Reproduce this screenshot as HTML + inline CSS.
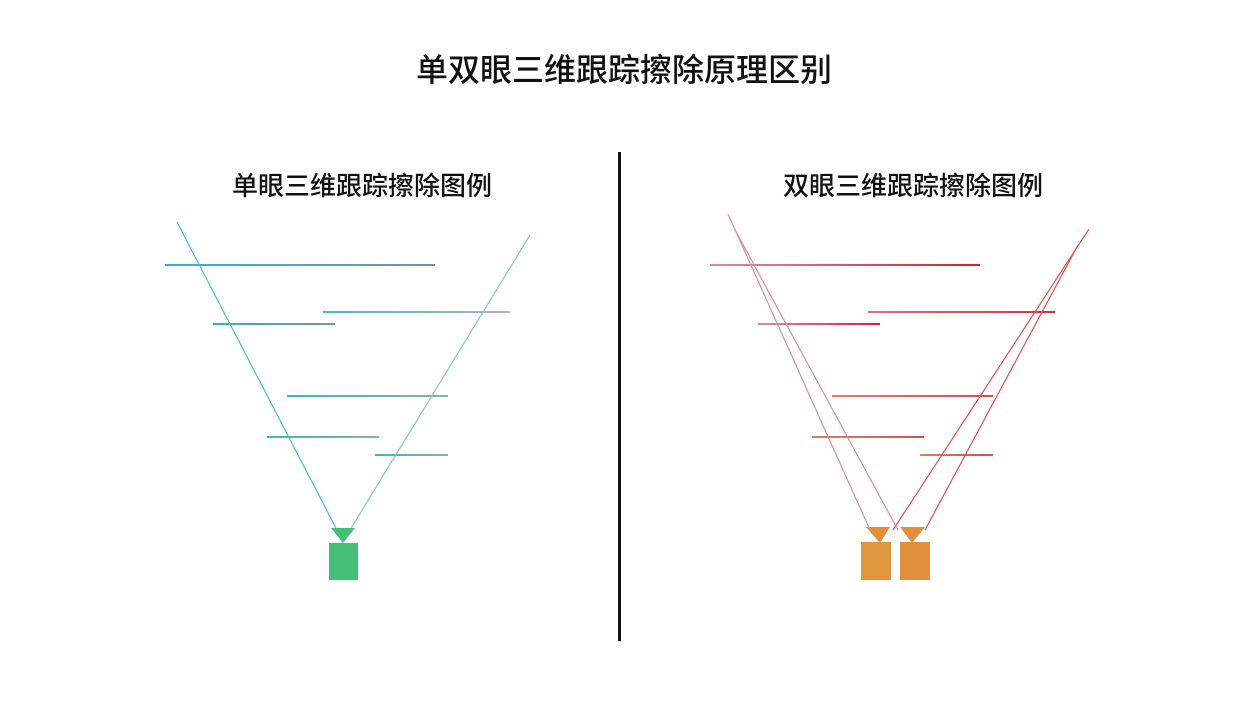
<!DOCTYPE html>
<html><head><meta charset="utf-8"><style>
body{margin:0;background:#fff;width:1253px;height:704px;overflow:hidden;font-family:"Liberation Sans","Noto Sans CJK SC",sans-serif;}
</style></head><body>
<svg width="1253" height="704" xmlns="http://www.w3.org/2000/svg">
<defs>
<linearGradient id="b1" x1="0" x2="1" y1="0" y2="0"><stop offset="0" stop-color="#2bb3e0"/><stop offset="1" stop-color="#7a8fb0"/></linearGradient>
<linearGradient id="b2" x1="0" x2="1" y1="0" y2="0"><stop offset="0" stop-color="#46b8d8"/><stop offset="1" stop-color="#a8b4c8"/></linearGradient>
<linearGradient id="b3" x1="0" x2="1" y1="0" y2="0"><stop offset="0" stop-color="#3bb8b0"/><stop offset="1" stop-color="#8ab0a8"/></linearGradient>
<linearGradient id="r1" x1="0" x2="1" y1="0" y2="0"><stop offset="0" stop-color="#d888b8"/><stop offset="1" stop-color="#d8202c"/></linearGradient>
<linearGradient id="r2" x1="0" x2="1" y1="0" y2="0"><stop offset="0" stop-color="#e07080"/><stop offset="1" stop-color="#d83040"/></linearGradient>
<linearGradient id="r3" x1="0" x2="1" y1="0" y2="0"><stop offset="0" stop-color="#d88070"/><stop offset="1" stop-color="#d05050"/></linearGradient>
</defs>
<text x="624" y="81" font-size="32" font-weight="500" text-anchor="middle" fill="#111" font-family="Liberation Sans, Noto Sans CJK SC, sans-serif">单双眼三维跟踪擦除原理区别</text>
<text x="362" y="195" font-size="26" font-weight="500" text-anchor="middle" fill="#111" font-family="Liberation Sans, Noto Sans CJK SC, sans-serif">单眼三维跟踪擦除图例</text>
<text x="913" y="195" font-size="26" font-weight="500" text-anchor="middle" fill="#111" font-family="Liberation Sans, Noto Sans CJK SC, sans-serif">双眼三维跟踪擦除图例</text>
<rect x="618" y="152" width="3" height="489" fill="#111"/>
<!-- left -->
<rect x="165" y="264" width="270" height="2" fill="url(#b1)"/>
<rect x="323" y="311" width="187" height="2" fill="url(#b2)"/>
<rect x="213" y="323" width="122" height="2" fill="url(#b1)"/>
<rect x="287" y="395" width="161" height="2" fill="url(#b3)"/>
<rect x="267" y="436" width="112" height="2" fill="url(#b3)"/>
<rect x="375" y="454" width="73" height="2" fill="url(#b3)"/>
<line x1="177" y1="222" x2="337" y2="530" stroke="#4bbbc8" stroke-width="1.2"/>
<line x1="530" y1="235" x2="350" y2="530" stroke="#8cc8b0" stroke-width="1.2"/>
<polygon points="331,528 355,528 343,543" fill="#44bf78"/>
<rect x="329" y="543" width="29" height="37" fill="#44bf78"/>
<!-- right -->
<rect x="710" y="264" width="270" height="2" fill="url(#r1)"/>
<rect x="868" y="311" width="187" height="2" fill="url(#r2)"/>
<rect x="758" y="323" width="122" height="2" fill="url(#r1)"/>
<rect x="832" y="395" width="161" height="2" fill="url(#r3)"/>
<rect x="812" y="436" width="112" height="2" fill="url(#r3)"/>
<rect x="920" y="454" width="73" height="2" fill="url(#r3)"/>
<g stroke-width="1.2">
<line x1="728" y1="214" x2="870" y2="530" stroke="#d49098"/>
<line x1="734" y1="228" x2="898" y2="530" stroke="#d49098"/>
<line x1="1089" y1="229" x2="893" y2="530" stroke="#e05050"/>
<line x1="1078" y1="245" x2="925" y2="530" stroke="#e05050"/>
</g>
<polygon points="866,527 890,527 880,543" fill="#e0903c"/>
<rect x="861" y="542" width="30" height="38" fill="#e0963c"/>
<polygon points="900,527 925,527 912,543" fill="#e0903c"/>
<rect x="900" y="542" width="30" height="38" fill="#e0903c"/>
</svg>
</body></html>
